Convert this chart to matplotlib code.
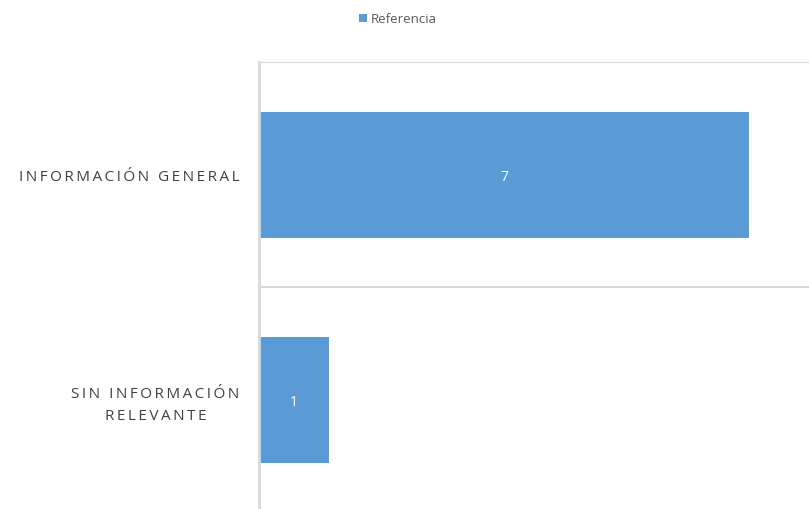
import matplotlib
matplotlib.use("Agg")
import matplotlib.pyplot as plt

categories = ["INFORMACIÓN GENERAL", "SIN INFORMACIÓN\nRELEVANTE"]
values = [7, 1]
series_name = "Referencia"

bar_color = "#5B9BD5"
grid_color = "#D9D9D9"


def spaced(s):
    # Excel-style letter spacing
    return "\n".join("\u2009".join(line) for line in s.split("\n"))


fig = plt.figure(figsize=(8.09, 5.10), dpi=100)
ax = fig.add_axes([259 / 809, -3 / 510, 550 / 809, 450 / 510])

ypos = list(range(len(categories)))
bars = ax.barh(ypos, values, height=0.56, color=bar_color, label=series_name)

ax.set_ylim(len(categories) - 0.5, -0.5)
ax.set_xlim(0, 550 / 70)

for b, v in zip(bars, values):
    ax.text(b.get_width() / 2, b.get_y() + b.get_height() / 2 + 0.01, str(v),
            ha="center", va="center", color="white", fontsize=10, family="Open Sans")

for y in [-0.5, 0.5]:
    ax.axhline(y, color=grid_color, lw=1.5, zorder=0)

for side in ["top", "right", "bottom"]:
    ax.spines[side].set_visible(False)
ax.spines["left"].set_color(grid_color)
ax.spines["left"].set_linewidth(2)

ax.set_xticks([])
ax.set_yticks(ypos)
ax.set_yticklabels([spaced(c) for c in categories], fontsize=11, color="#404040",
                   family="Open Sans", linespacing=1.55)
ax.tick_params(axis="y", length=0, pad=14)
for lbl in ax.get_yticklabels():
    lbl.set_multialignment("center")

fig.legend(loc="upper center", bbox_to_anchor=(0.492, 0.997), frameon=False,
           handlelength=0.6, handleheight=0.6, handletextpad=0.3,
           prop={"family": "Open Sans", "size": 9.5}, labelcolor="#595959")

fig.savefig("out.png", dpi=100)
